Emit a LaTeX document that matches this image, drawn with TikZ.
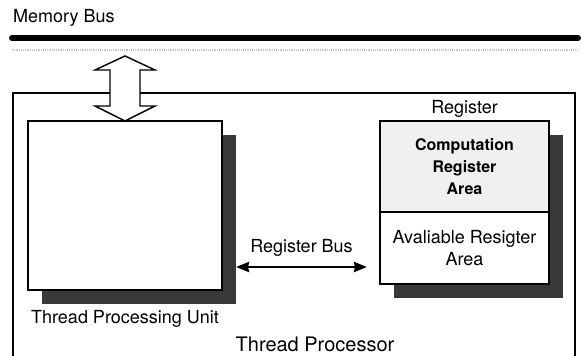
\documentclass[tikz,border=0pt]{standalone}
\usepackage{fontspec}
\setmainfont{TeX Gyre Heros}
\usetikzlibrary{arrows.meta,positioning,shadows}

\tikzset{
  unit/.style={draw, line width=1.6pt, fill=white, inner sep=0pt, outer sep=0pt,
    drop shadow={shadow xshift=14pt, shadow yshift=-14pt, fill=black!78, opacity=1}},
  lbl/.style={inner sep=0pt, font=\fontsize{18}{22}\selectfont},
  busarrow/.style={{Stealth[length=13pt,width=10pt,inset=1pt]}-{Stealth[length=13pt,width=10pt,inset=1pt]}, line width=2.6pt},
}

\begin{document}
\begin{tikzpicture}[x=1pt, y=-1pt]
  \useasboundingbox (0,0) rectangle (582,356);
  \def\hw{30}  % half width of the arrow heads
  \def\sw{15}  % half width of the shaft

  % memory bus
  \node[lbl, anchor=base west] (mbus) at (13,22) {Memory Bus};
  \coordinate (busl) at (12,38);
  \coordinate (busr) at (578,38);
  \draw[line width=6pt, line cap=round] (busl) -- (busr);
  \draw[gray!45, line width=1.2pt, densely dotted] ([yshift=-12pt]busl) -- ([yshift=-12pt]busr);

  % thread processor frame, open at the bottom
  \draw[line width=1.4pt] (13,356) |- (575,93) -- (575,356);
  \node[lbl, font=\fontsize{20}{24}\selectfont, anchor=base] (tp) at (315,351) {Thread Processor};

  % thread processing unit
  \node[unit, minimum width=194, minimum height=169, anchor=north west] (tpu) at (28,121) {};
  \node[lbl, below=20pt of tpu] (tpulbl) {Thread Processing Unit};

  % bus <-> unit
  \draw[line width=1.4pt, fill=white] (tpu.north) -- ++(-\hw,-15) -- ++(\hw-\sw,0) -- ++(0,-36)
    -- ++(\sw-\hw,0) -- ++(\hw,-14) -- ++(\hw,14) -- ++(\sw-\hw,0) -- ++(0,36)
    -- ++(\hw-\sw,0) -- cycle;

  % register file
  \node[unit, fill=gray!12, minimum width=169, minimum height=91, anchor=north west,
        align=center, font=\fontsize{16}{22}\selectfont\bfseries] (comp) at (380,121)
        {Computation\\Register\\Area};
  \node[unit, minimum width=169, minimum height=72, below=0pt of comp,
        align=center, font=\fontsize{18}{22}\selectfont] (avail)
        {Avaliable Resigter\\Area};
  \node[lbl, anchor=base] (reg) at ([yshift=8pt]comp.north) {Register};

  % register bus
  \coordinate (rbw) at (236,267);
  \coordinate (rbe) at (367,267);
  \draw[busarrow] (rbw) -- node[lbl, above=9pt] (rbus) {Register Bus} (rbe);
\end{tikzpicture}
\end{document}
